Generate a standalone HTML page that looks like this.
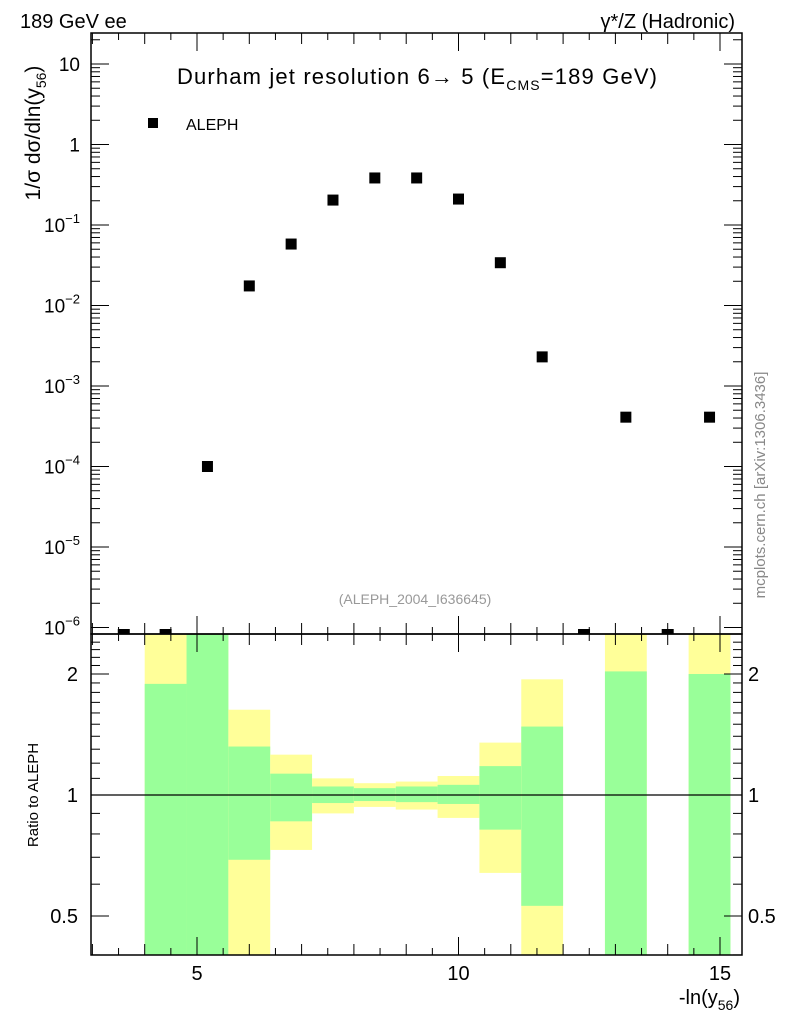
<!DOCTYPE html>
<html><head><meta charset="utf-8"><style>
body{margin:0;background:#fff;font-family:"Liberation Sans",sans-serif}
svg text{font-family:"Liberation Sans","DejaVu Sans",sans-serif}
</style></head><body>
<svg id="c" width="786" height="1024" xmlns="http://www.w3.org/2000/svg">
<text x="20" y="28" font-size="20">189 GeV ee</text>
<text x="735" y="28" font-size="20" text-anchor="end">γ*/Z (Hadronic)</text>
<text x="177" y="84" font-size="22" textLength="480">Durham jet resolution 6→  5 (E<tspan font-size="14" dy="6">CMS</tspan><tspan dy="-6">=189 GeV)</tspan></text>
<rect x="148" y="118" width="10" height="10" fill="#000"/>
<text x="186" y="130" font-size="16">ALEPH</text>
<text x="415" y="604" font-size="14" fill="#999" text-anchor="middle">(ALEPH_2004_I636645)</text>
<text transform="translate(765,485) rotate(-90)" font-size="15" fill="#888" text-anchor="middle">mcplots.cern.ch [arXiv:1306.3436]</text>
<text transform="translate(40,133) rotate(-90)" font-size="21" text-anchor="middle">1/σ  dσ/dln(y<tspan font-size="14" dy="6">56</tspan><tspan dy="-6">)</tspan></text>
<text transform="translate(38,795) rotate(-90)" font-size="15" text-anchor="middle">Ratio to ALEPH</text>
<text x="740" y="1004" font-size="20" text-anchor="end">-ln(y<tspan font-size="14" dy="6">56</tspan><tspan dy="-6">)</tspan></text>
<g id="g"></g>
</svg>
<script>
const binCenters=[3.6,4.4,5.2,6.0,6.8,7.6,8.4,9.2,10.0,10.8,11.6,12.4,13.2,14.0,14.8];
const dataValues=[0,0,1e-4,0.0175,0.058,0.204,0.384,0.384,0.21,0.034,0.0023,0,4.1e-4,0,4.1e-4];
const bandLo=[4.0,4.8,5.6,6.4,7.2,8.0,8.8,9.6,10.4,11.2,12.8,14.4];
const bandYHi=[3,3,1.63,1.26,1.10,1.07,1.08,1.115,1.35,1.94,3,3];
const bandGHi=[1.89,3,1.32,1.13,1.05,1.04,1.05,1.06,1.18,1.48,2.03,2.0];
const bandGLo=[0.3,0.3,0.69,0.86,0.955,0.966,0.96,0.95,0.82,0.53,0.3,0.3];
const bandYLo=[0.3,0.3,0.3,0.73,0.90,0.934,0.92,0.877,0.64,0.3,0.3,0.3];
const xTicks=[5,10,15];
const yTicks=[1,0,-1,-2,-3,-4,-5,-6];
const rTicks=[0.5,1,2];
const L=91,R=742,T=33,M=634,B=955;
const X=v=>197+(v-5)*52.3;
const Y=v=>64+(1-Math.log10(v))*80.5;
const RY=v=>795-Math.log2(v)*121;
const g=document.getElementById('g');
const NS='http://www.w3.org/2000/svg';
function mk(t,a){const e=document.createElementNS(NS,t);for(const k in a)e.setAttribute(k,a[k]);g.appendChild(e);return e;}
const cl=(v,a,b)=>Math.max(a,Math.min(b,v));
bandLo.forEach((lo,i)=>{
 const x1=X(lo),w=X(lo+0.8)-x1;
 const yt=cl(RY(bandYHi[i]),M,B),yb=cl(RY(bandYLo[i]),M,B);
 let e=mk('rect',{x:x1,y:yt,width:w,height:yb-yt,fill:'#ffff99'});
 
 
 const gt=cl(RY(bandGHi[i]),M,B),gb=cl(RY(bandGLo[i]),M,B);
 e=mk('rect',{x:x1,y:gt,width:w,height:gb-gt,fill:'#99ff99'});
 
 
});
mk('line',{x1:L,x2:R,y1:RY(1),y2:RY(1),stroke:'#000','stroke-width':1.2});
binCenters.forEach((c,i)=>{
 const v=dataValues[i];
 const y=v>0?Y(v):M-4;
 const e=mk('rect',{x:X(c)-(v>0?5.5:6),y:v>0?y-5.5:M-5,width:v>0?11:12,height:v>0?11:5,fill:'#000'});
 
 
});
mk('rect',{x:L,y:T,width:R-L,height:M-T,fill:'none',stroke:'#000','stroke-width':1.5});
mk('rect',{x:L,y:M,width:R-L,height:B-M,fill:'none',stroke:'#000','stroke-width':1.5});
for(let v=3;v<=15.4;v+=0.5){
 const x=X(v),maj=Math.abs(v%5)<1e-6;
 const h=maj?18:(Math.abs(v%1)<1e-6?11:7);
 [T,M].forEach(y0=>mk('line',{x1:x,x2:x,y1:y0,y2:y0+h,stroke:'#000'}));
 mk('line',{x1:x,x2:x,y1:M,y2:M-h,stroke:'#000'});
 mk('line',{x1:x,x2:x,y1:B,y2:B-h,stroke:'#000'});
}
xTicks.forEach(v=>{const e=mk('text',{x:X(v),y:980,'font-size':20,'text-anchor':'middle'});e.textContent=v;
 
 });
yTicks.forEach(p=>{
 const y=Y(Math.pow(10,p));
 [[L,1],[R,-1]].forEach(([x,d])=>mk('line',{x1:x,x2:x+d*18,y1:y,y2:y,stroke:'#000'}));
 for(let m=2;m<10;m++){const yy=Y(m*Math.pow(10,p));if(yy>T&&yy<M)[[L,1],[R,-1]].forEach(([x,d])=>mk('line',{x1:x,x2:x+d*9,y1:yy,y2:yy,stroke:'#000'}));}
 const e=mk('text',{x:80,y:y+7,'font-size':19,'text-anchor':'end'});
 
 
 if(p===0)e.textContent='1';else if(p===1)e.textContent='10';
 else{e.textContent='10';const t=document.createElementNS(NS,'tspan');t.setAttribute('dy','-9');t.setAttribute('font-size','13');t.textContent='−'+(-p);e.appendChild(t);}
});
for(let v=0.4;v<=2.5;v+=0.1){const y=RY(v);if(y<M||y>B)continue;
 [[L,1],[R,-1]].forEach(([x,d])=>mk('line',{x1:x,x2:x+d*9,y1:y,y2:y,stroke:'#000'}));}
rTicks.forEach(v=>{const y=RY(v);
 [[L,1],[R,-1]].forEach(([x,d])=>mk('line',{x1:x,x2:x+d*18,y1:y,y2:y,stroke:'#000'}));
 let e=mk('text',{x:78,y:y+7,'font-size':20,'text-anchor':'end'});e.textContent=v;
 
 
 e=mk('text',{x:748,y:y+7,'font-size':20});e.textContent=v;
 
 
});
</script>
</body></html>
